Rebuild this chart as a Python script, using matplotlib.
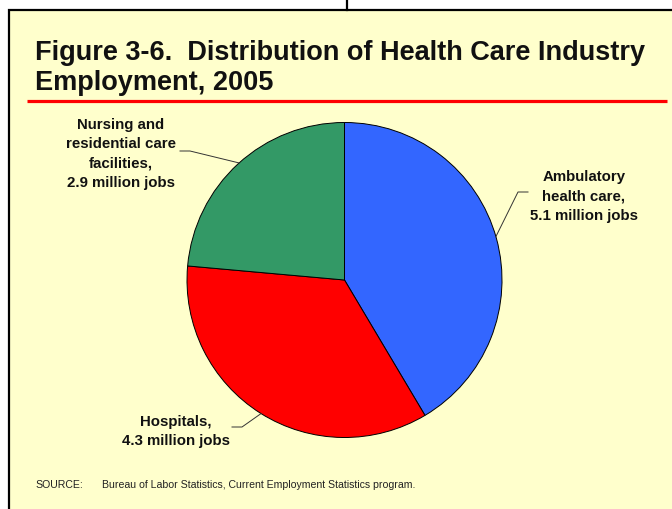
import matplotlib as mpl

mpl.use("Agg")

import matplotlib.pyplot as plt
import numpy as np
from matplotlib.patches import Rectangle

W, H = 672, 510

categories = ["Ambulatory\nhealth care,", "Hospitals,", "Nursing and\nresidential care\nfacilities,"]
jobs_millions = [5.1, 4.3, 2.9]
colors = ["#3366FF", "#FF0000", "#339966"]
title = "Figure 3-6.  Distribution of Health Care Industry\nEmployment, 2005"
source_label = "SOURCE:"
source_text = "Bureau of Labor Statistics, Current Employment Statistics program."

BG = "#FFFFCC"
FONT = ["Liberation Sans", "DejaVu Sans"]
NARROW = ["Liberation Sans Narrow", "Liberation Sans", "DejaVu Sans"]


def img(y):
    # picture rows run downward, the axes run upward
    return H - y


fig = plt.figure(figsize=(W / 100, H / 100), dpi=100, facecolor="white")
ax = fig.add_axes([0, 0, 1, 1])

# panel box
ax.add_patch(Rectangle((9, img(530)), 700, 519, facecolor=BG, edgecolor="black",
                       linewidth=1.6, zorder=0))
ax.plot([347, 347], [img(0), img(11)], color="black", linewidth=1.6, zorder=1)

ax.text(35, img(40), title, fontsize=19.5, fontweight="bold", family=FONT,
        va="top", ha="left", linespacing=1.22, color="#111111")
ax.plot([27, 667], [img(101.5), img(101.5)], color="#FF0000", linewidth=2.3,
        solid_capstyle="butt")

# pie
cx, cy, r = 344.5, img(281), 157.5
wedges, _ = ax.pie(jobs_millions, colors=colors, startangle=90, counterclock=False,
                   center=(cx, cy), radius=r,
                   wedgeprops=dict(edgecolor="black", linewidth=0.7))
ax.set_xlim(0, W)
ax.set_ylim(0, H)
ax.set_aspect("equal")
ax.axis("off")

# labels with leader lines: (text x, text top y, edge angle, elbow, line end)
labels = [
    (584, 170, 16, (528, 193), (518, 193)),
    (176, 415, -122, (232, 428), (242, 428)),
    (121, 118, 132, (180, 152), (190, 152)),
]
for name, value, (tx, ty, ang, p0, p1) in zip(categories, jobs_millions, labels):
    text = f"{name}\n{value:.1f} million jobs"
    ax.text(tx, img(ty), text, fontsize=10.8, fontweight="bold", family=FONT,
            ha="center", va="top", linespacing=1.48, color="#111111")
    ex = cx + r * np.cos(np.radians(ang))
    ey = cy + r * np.sin(np.radians(ang))
    ax.plot([p0[0], p1[0], ex], [img(p0[1]), img(p1[1]), ey], color="#333333",
            linewidth=0.7)

ax.text(35, img(485), source_label, fontsize=7.6, family=NARROW, va="center",
        ha="left", color="#222222")
ax.text(102, img(485), source_text, fontsize=7.6, family=NARROW, va="center",
        ha="left", color="#222222")

fig.savefig("out.png", dpi=100, facecolor="white")
